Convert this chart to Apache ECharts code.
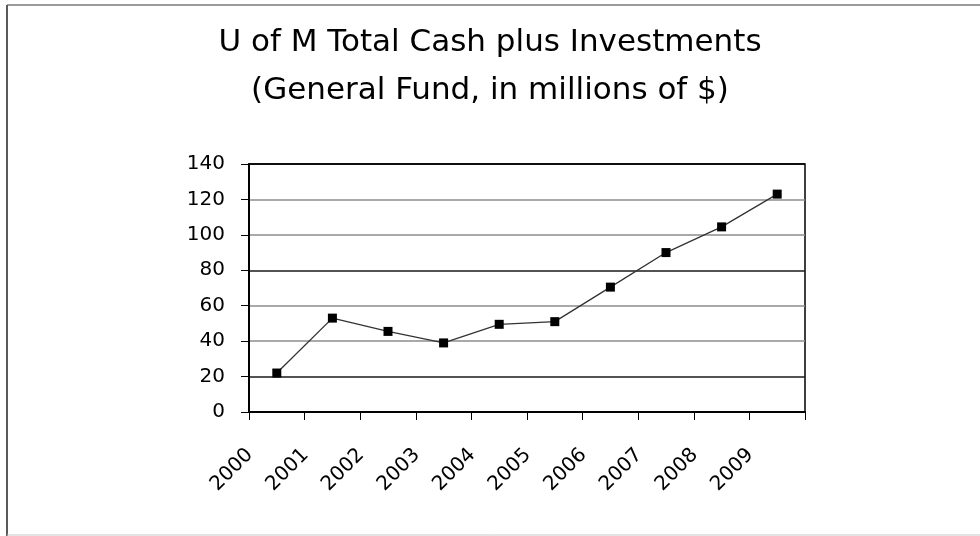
<!DOCTYPE html>
<html>
<head>
<meta charset="utf-8">
<title>U of M Total Cash plus Investments</title>
<script src="https://cdn.jsdelivr.net/npm/echarts@6/dist/echarts.min.js"></script>
<style>
    html, body { margin: 0; padding: 0; background: #fff; }
    #chart { width: 980px; height: 536px; }
</style>
</head>
<body>
<div id="chart"></div>
<script>
// values
const years = ['2000', '2001', '2002', '2003', '2004', '2005', '2006', '2007', '2008', '2009'];
const cashPlusInvestments = [22, 53, 45.5, 39, 49.5, 51, 70.5, 90, 104.5, 123];
const yMin = 0;
const yMax = 140;
const yStep = 20;

const titleLines = ['U of M Total Cash plus Investments', '(General Fund, in millions of $)'];

function initCashChart() {
    const chartElement = document.getElementById('chart');
    const chart = echarts.init(chartElement, null, { renderer: 'canvas' });
    const font = '"DejaVu Sans", "Liberation Sans", Arial, sans-serif';

    chart.setOption({
        animation: false,
        backgroundColor: '#fff',
        textStyle: { fontFamily: font },
        title: {
            text: titleLines.join('\n'),
            left: 'center',
            top: 14,
            textStyle: {
                fontFamily: font,
                fontSize: 31,
                fontWeight: 'normal',
                color: '#000',
                lineHeight: 48,
            },
        },
        // frame of the picture
        graphic: [
            { type: 'line', shape: { x1: 7, y1: 5, x2: 980, y2: 5 }, style: { stroke: '#9a9a9a', lineWidth: 2 } },
            { type: 'line', shape: { x1: 7, y1: 5, x2: 7, y2: 536 }, style: { stroke: '#5a5a5a', lineWidth: 2 } },
            { type: 'line', shape: { x1: 7, y1: 535, x2: 980, y2: 535 }, style: { stroke: '#c8c8c8', lineWidth: 1 } },
        ],
        grid: {
            left: 249,
            right: 175,
            top: 164,
            bottom: 124,
            show: true,
            borderColor: '#000',
            borderWidth: 1.5,
            backgroundColor: '#fff',
        },
        xAxis: {
            type: 'category',
            boundaryGap: true,
            data: years,
            axisLine: { lineStyle: { color: '#000', width: 2 } },
            axisTick: { show: true, length: 8, lineStyle: { color: '#000', width: 1 } },
            axisLabel: {
                rotate: 45,
                interval: 0,
                margin: 13,
                // pushes the rotated year back towards the left tick, as in the original
                padding: [0, 38, 0, 0],
                color: '#000',
                fontFamily: font,
                fontSize: 20,
            },
            splitLine: { show: false },
        },
        yAxis: {
            type: 'value',
            min: yMin,
            max: yMax,
            interval: yStep,
            axisLine: { show: true, lineStyle: { color: '#000', width: 2 } },
            axisTick: { show: true, length: 8, lineStyle: { color: '#000', width: 1 } },
            axisLabel: {
                margin: 24,
                color: '#000',
                fontFamily: font,
                fontSize: 20,
            },
            splitLine: {
                show: true,
                lineStyle: {
                    color: ['#000', '#1a1a1a', '#8c8c8c', '#8c8c8c', '#1a1a1a', '#8c8c8c', '#8c8c8c', '#000'],
                    width: 1.5,
                },
            },
        },
        series: [{
            name: 'Total Cash plus Investments',
            type: 'line',
            data: cashPlusInvestments,
            symbol: 'rect',
            symbolSize: 9,
            showSymbol: true,
            lineStyle: { color: '#333', width: 1.3 },
            itemStyle: { color: '#000' },
            emphasis: { disabled: true },
        }],
    });

    window.addEventListener('resize', () => chart.resize());
}

document.addEventListener('DOMContentLoaded', initCashChart);
</script>
</body>
</html>
